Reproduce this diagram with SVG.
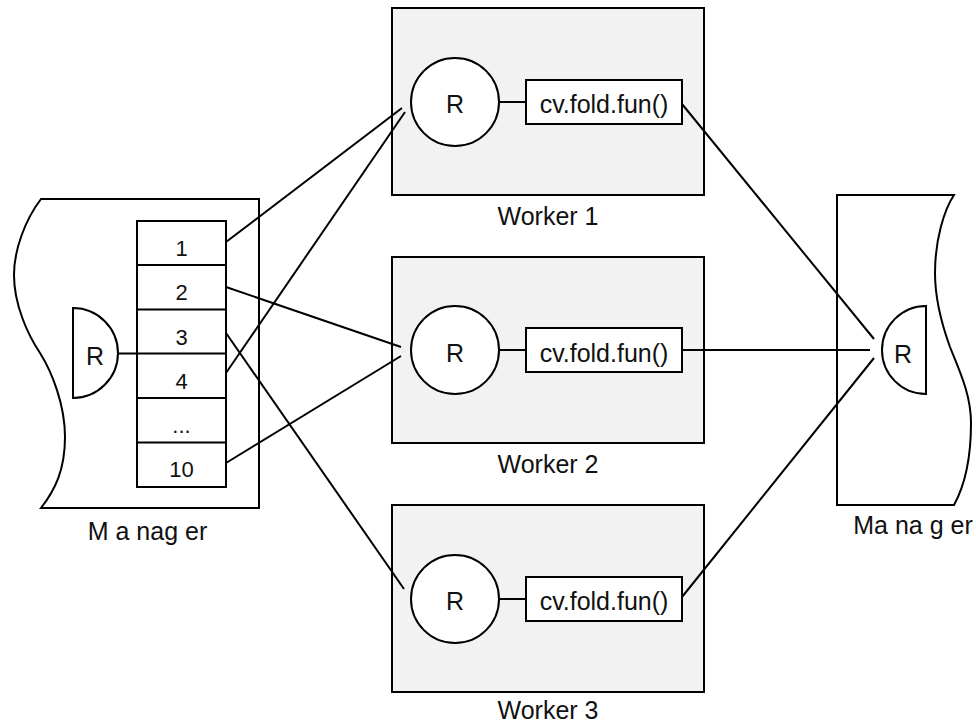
<svg xmlns="http://www.w3.org/2000/svg" width="976" height="725" viewBox="0 0 976 725">
<style>
.s{fill:none;stroke:#000;stroke-width:2}
.w{fill:#f2f2f2;stroke:#000;stroke-width:2}
.b{fill:#fff;stroke:#000;stroke-width:2}
.t{font-family:"Liberation Sans",Arial,sans-serif;font-size:25px;fill:#111;text-anchor:middle}
.n{font-family:"Liberation Sans",Arial,sans-serif;font-size:22px;fill:#111;text-anchor:middle}
</style>
<rect width="976" height="725" fill="#fff"/>
<g id="manager-left">
<path class="b" d="M41,199 H259 V508 H41 C55,490 65,470 65,437 C65,405 52,372 40,353 C28,335 14,305 14,275 C14,250 25,220 41,199 Z"/>
<path class="b" d="M73,308 A45,45 0 0 1 73,398 Z"/>
<text class="t" x="95" y="365">R</text>
<rect class="b" x="137" y="221" width="89" height="266"/>
<line class="s" x1="137" y1="265" x2="226" y2="265"/>
<line class="s" x1="137" y1="309.5" x2="226" y2="309.5"/>
<line class="s" x1="137" y1="353.5" x2="226" y2="353.5"/>
<line class="s" x1="137" y1="398" x2="226" y2="398"/>
<line class="s" x1="137" y1="442.5" x2="226" y2="442.5"/>
<text class="n" x="181.5" y="256">1</text>
<text class="n" x="181.5" y="300">2</text>
<text class="n" x="181.5" y="344.5">3</text>
<text class="n" x="181.5" y="389">4</text>
<text class="n" x="181.5" y="433">...</text>
<text class="n" x="181.5" y="477">10</text>
<text class="t" x="147.5" y="540">M a nag er</text>
</g>
<g id="manager-right">
<path class="b" d="M837,195 H954 C944,210 935,240 935,273 C935,300 942,325 950,347 C960,372 971,395 971,423 C971,455 965,485 954,505 H837 Z"/>
<path class="b" d="M926,306 A44,44 0 0 0 926,394 Z"/>
<text class="t" x="903" y="363">R</text>
<text class="t" x="913" y="534">Ma na g er</text>
</g>
<g id="worker1">
<rect class="w" x="392" y="8" width="312" height="187"/>
<circle class="b" cx="455" cy="102" r="44"/>
<text class="t" x="455" y="113">R</text>
<line class="s" x1="499" y1="102" x2="526" y2="102"/>
<rect class="b" x="526" y="80" width="156" height="44"/>
<text class="t" x="604" y="113">cv.fold.fun()</text>
<text class="t" x="548" y="225">Worker 1</text>
</g>
<g id="worker2">
<rect class="w" x="392" y="257" width="312" height="186"/>
<circle class="b" cx="455" cy="350" r="44"/>
<text class="t" x="455" y="362">R</text>
<line class="s" x1="499" y1="350" x2="526" y2="350"/>
<rect class="b" x="526" y="328" width="156" height="44"/>
<text class="t" x="604" y="362">cv.fold.fun()</text>
<text class="t" x="548" y="473">Worker 2</text>
</g>
<g id="worker3">
<rect class="w" x="392" y="505" width="312" height="187"/>
<circle class="b" cx="455" cy="599" r="44"/>
<text class="t" x="455" y="610">R</text>
<line class="s" x1="499" y1="599" x2="526" y2="599"/>
<rect class="b" x="526" y="577" width="156" height="44"/>
<text class="t" x="604" y="610">cv.fold.fun()</text>
<text class="t" x="548" y="719">Worker 3</text>
</g>
<g id="connectors">
<line class="s" x1="118" y1="353.5" x2="137" y2="353.5"/>
<line class="s" x1="226" y1="242" x2="402" y2="108"/>
<line class="s" x1="226" y1="373" x2="405" y2="112"/>
<line class="s" x1="226" y1="287" x2="401" y2="347"/>
<line class="s" x1="226" y1="463" x2="401" y2="356"/>
<line class="s" x1="226" y1="333" x2="404" y2="589"/>
<line class="s" x1="682" y1="104" x2="874" y2="339"/>
<line class="s" x1="682" y1="350" x2="870" y2="350"/>
<line class="s" x1="682" y1="597" x2="874" y2="358"/>
</g>
</svg>
